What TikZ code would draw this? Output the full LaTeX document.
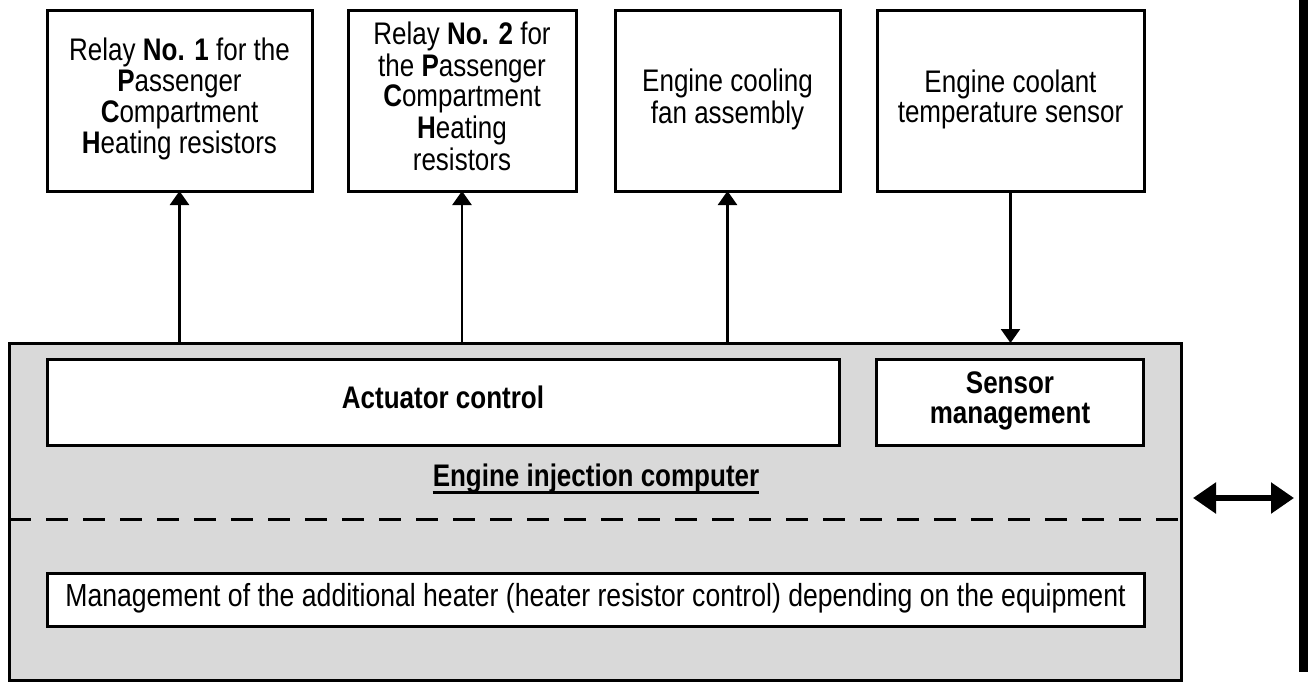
\documentclass[tikz,border=0pt]{standalone}
\usepackage{fontspec}
\usepackage{graphicx}
\setmainfont{Liberation Sans}
\usetikzlibrary{arrows.meta}
\definecolor{ecugray}{HTML}{D9D9D9}
\newcommand{\tallbox}[1]{\scalebox{1}[1.2]{\begin{tabular}{@{}c@{}}#1\end{tabular}}}
\begin{document}
\begin{tikzpicture}[x=1pt,y=-1pt,
  txt/.style={font=\fontsize{26}{25}\selectfont},
  box/.style={draw, line width=3pt, fill=white, inner sep=0pt, outer sep=0pt, txt},
  link/.style={line width=2.5pt, -{Triangle[length=14pt,width=19pt]}},
  both/.style={line width=5.5pt, {Triangle[length=23pt,width=30pt]}-{Triangle[length=23pt,width=30pt]}}
]
\useasboundingbox (0,0) rectangle (1315,683);
% top boxes
\node[box, minimum width=265pt, minimum height=181pt] (relay1) at (179.5,100.5)
  {\tallbox{Relay \textbf{No. 1} for the\\\textbf{P}assenger\\\textbf{C}ompartment\\\textbf{H}eating resistors}};
\node[box, minimum width=228pt, minimum height=181pt] (relay2) at (462,100.5)
  {\tallbox{Relay \textbf{No. 2} for\\the \textbf{P}assenger\\\textbf{C}ompartment\\\textbf{H}eating\\resistors}};
\node[box, minimum width=225pt, minimum height=181pt] (fan) at (727.5,100.5)
  {\tallbox{Engine cooling\\fan assembly}};
\node[box, minimum width=267pt, minimum height=181pt] (sensor) at (1010.5,100.5)
  {\tallbox{Engine coolant\\temperature sensor}};
% computer
\node[draw, line width=3pt, fill=ecugray, inner sep=0pt, outer sep=0pt,
  minimum width=1172pt, minimum height=337pt] (ecu) at (595,511.5) {};
\node[box, minimum width=792pt, minimum height=86pt] (act) at (443,402)
  {\tallbox{\textbf{Actuator control}}};
\node[box, minimum width=267pt, minimum height=86pt] (sman) at (1010,402)
  {\tallbox{\textbf{Sensor}\\\textbf{management}}};
\node[txt, inner sep=0pt] (ecul) at (596,480) {\tallbox{\textbf{Engine injection computer}}};
\coordinate (uly) at (0,492.5);
\draw[line width=2.5pt] (ecul.west |- uly) -- (ecul.east |- uly);
\coordinate (dashy) at (0,519);
\draw[line width=3pt, dash pattern=on 22pt off 15pt] (ecu.west |- dashy) -- (ecu.east |- dashy);
\node[box, minimum width=1097pt, minimum height=53pt, font=\fontsize{26.6}{25}\selectfont] (heater) at (595.5,599.5)
  {\tallbox{Management of the additional heater (heater resistor control) depending on the equipment}};
% connectors
\draw[link] (relay1.south |- ecu.north) -- (relay1.south);
\draw[link] (relay2.south |- ecu.north) -- (relay2.south);
\draw[link] (fan.south |- ecu.north) -- (fan.south);
\draw[link] (sensor.south) -- (sensor.south |- ecu.north);
% external link
\coordinate (da1) at (1193,498);
\coordinate (da2) at (1294,498);
\draw[both] (da1) -- (da2);
\fill (1298.5,0) rectangle (1308,672);
\end{tikzpicture}
\end{document}
